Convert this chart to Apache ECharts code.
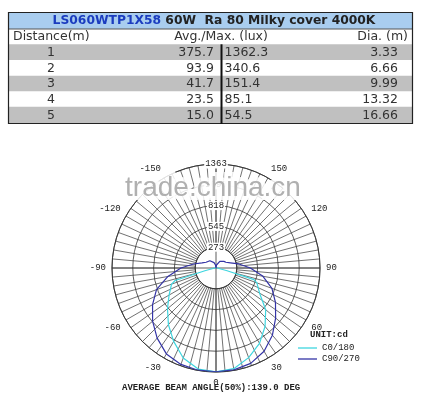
<!DOCTYPE html>
<html><head><meta charset="utf-8">
<script src="https://cdn.jsdelivr.net/npm/echarts@6/dist/echarts.min.js"></script>
<style>html,body{margin:0;padding:0;background:#fff}#c{width:426px;height:395px}</style>
</head><body><div id="c"></div>
<script>
// ---- table data ----
const titleCode = 'LS060WTP1X58';
const titleRest = ' 60W  Ra 80 Milky cover 4000K';
const colHeaders = ['Distance(m)', 'Avg./Max. (lux)', 'Dia. (m)'];
const distances = ['1', '2', '3', '4', '5'];
const avgLux = ['375.7', '93.9', '41.7', '23.5', '15.0'];
const maxLux = ['1362.3', '340.6', '151.4', '85.1', '54.5'];
const diameters = ['3.33', '6.66', '9.99', '13.32', '16.66'];

// ---- polar curve data (cd) ----
const c0Angles = [-180,-170,-160,-150,-140,-130,-120,-110,-100,-90,-80,-76,-73,-70,-60,-50,-40,-30,-20,-10,0,10,20,30,40,50,60,70,73,76,80,90,100,110,120,130,140,150,160,170,180];
const c0Values = [5,10,10,10,10,10,10,10,10,15,40,150,560,620,710,830,970,1110,1255,1345,1362,1340,1250,1140,1000,850,660,570,520,150,40,15,10,10,10,10,10,10,10,10,5];
const c90Angles = [-180,-170,-160,-150,-140,-130,-120,-110,-100,-90,-80,-70,-60,-50,-40,-30,-20,-10,0,10,20,30,40,50,60,70,80,90,100,110,120,130,140,150,160,170,180];
const c90Values = [0,40,75,100,125,135,150,195,300,460,640,830,960,1085,1200,1300,1345,1360,1362,1355,1330,1260,1150,1020,900,780,625,450,305,200,150,135,125,100,75,40,0];
const seriesNames = ['C0/180', 'C90/270'];
const ringLabels = [273, 545, 818, 1090, 1363];
const angleMin = -180, angleMax = 180, angleStep = 30;
const unitText = 'UNIT:cd';
const beamText = 'AVERAGE BEAM ANGLE(50%):139.0 DEG';
const watermark = 'trade.china.cn';

// ---- layout ----
const CX = 216, CY = 268, R = 104;
const rMax = ringLabels[ringLabels.length - 1];
const rStep = rMax / ringLabels.length;
const R0 = R * rStep / rMax;
const mono = '"Liberation Mono", "DejaVu Sans Mono", monospace';
const sans = '"DejaVu Sans", Verdana, sans-serif';
const gridColor = '#333';

// table geometry
const tL = 8, tR = 413;
const rowEdges = [12, 29, 44.3, 60, 75.7, 91.2, 106.7, 124];
const graphics = [];
graphics.push({type:'rect', shape:{x:tL, y:rowEdges[0], width:tR-tL, height:rowEdges[1]-rowEdges[0]}, style:{fill:'#a9cdef'}});
for (let i = 0; i < distances.length; i++) {
  if (i % 2 === 0) {
    graphics.push({type:'rect', shape:{x:tL, y:rowEdges[i+2], width:tR-tL, height:rowEdges[i+3]-rowEdges[i+2]}, style:{fill:'#c0c0c0'}});
  }
}
graphics.push({type:'line', shape:{x1:tL, y1:rowEdges[1], x2:tR, y2:rowEdges[1]}, style:{stroke:'#555', lineWidth:1}});
graphics.push({type:'rect', shape:{x:tL+0.5, y:rowEdges[0]+0.5, width:tR-tL-1, height:rowEdges[7]-rowEdges[0]-1}, style:{fill:null, stroke:'#222', lineWidth:1.2}});
graphics.push({type:'line', shape:{x1:221.5, y1:rowEdges[2], x2:221.5, y2:rowEdges[7]}, style:{stroke:'#111', lineWidth:2}});
graphics.push({type:'text', x:214, y:(rowEdges[0]+rowEdges[1])/2+0.5, style:{
  text:'{a|' + titleCode + '}{b|' + titleRest + '}', align:'center', verticalAlign:'middle',
  rich:{a:{fill:'#1b3cbf', font:'bold 12.3px ' + sans}, b:{fill:'#222', font:'bold 12.3px ' + sans}}}});
const hy = (rowEdges[1]+rowEdges[2])/2 + 0.5;
const tf = '12.5px ' + sans;
graphics.push({type:'text', x:13, y:hy, style:{text:colHeaders[0], font:tf, fill:'#333', align:'left', verticalAlign:'middle'}});
graphics.push({type:'text', x:221, y:hy, style:{text:colHeaders[1], font:tf, fill:'#333', align:'center', verticalAlign:'middle'}});
graphics.push({type:'text', x:408, y:hy, style:{text:colHeaders[2], font:tf, fill:'#333', align:'right', verticalAlign:'middle'}});
for (let i = 0; i < distances.length; i++) {
  const y = (rowEdges[i+2]+rowEdges[i+3])/2 + 0.5;
  graphics.push({type:'text', x:51, y:y, style:{text:distances[i], font:tf, fill:'#333', align:'center', verticalAlign:'middle'}});
  graphics.push({type:'text', x:214, y:y, style:{text:avgLux[i], font:tf, fill:'#333', align:'right', verticalAlign:'middle'}});
  graphics.push({type:'text', x:224.5, y:y, style:{text:maxLux[i], font:tf, fill:'#333', align:'left', verticalAlign:'middle'}});
  graphics.push({type:'text', x:398, y:y, style:{text:diameters[i], font:tf, fill:'#333', align:'right', verticalAlign:'middle'}});
}
// legend header + bottom text
graphics.push({type:'text', x:310, y:335, style:{text:unitText, font:'bold 9px ' + mono, fill:'#222', align:'left', verticalAlign:'middle'}});
graphics.push({type:'text', x:122, y:387.5, style:{text:beamText, font:'bold 9px ' + mono, fill:'#222', align:'left', verticalAlign:'middle'}});
// watermark
graphics.push({type:'text', x:213, y:188, z:100, style:{text:watermark, font:'28px "Liberation Sans", Arial, sans-serif', fill:'#fff', stroke:'#fff', lineWidth:8, align:'center', verticalAlign:'middle', opacity:0.85}});
graphics.push({type:'text', x:213, y:188, z:101, style:{text:watermark, font:'28px "Liberation Sans", Arial, sans-serif', fill:'#b0b0b0', align:'center', verticalAlign:'middle'}});

const option = {
  backgroundColor: '#fff',
  animation: false,
  polar: [
    {center:[CX, CY], radius:[0, R]},
    {center:[CX, CY], radius:[R0, R]}
  ],
  angleAxis: [
    {polarIndex:0, type:'value', min:angleMin, max:angleMax, interval:90, startAngle:90, clockwise:false,
     axisLine:{show:false}, axisTick:{show:false}, axisLabel:{show:false},
     splitLine:{show:true, lineStyle:{color:gridColor, width:0.8}}},
    {polarIndex:1, type:'value', min:angleMin, max:angleMax, interval:angleStep, startAngle:90, clockwise:false,
     axisLine:{show:true, lineStyle:{color:gridColor, width:0.9}}, axisTick:{show:false},
     minorTick:{show:false, splitNumber:6},
     minorSplitLine:{show:true, lineStyle:{color:gridColor, width:0.7}},
     splitLine:{show:true, lineStyle:{color:gridColor, width:0.7}},
     axisLabel:{show:true, margin:6, fontFamily:mono, fontSize:9, color:'#222',
       formatter: v => (Math.abs(v) === 180 ? '' : String(v))}}
  ],
  radiusAxis: [
    {polarIndex:0, type:'value', min:0, max:rMax, interval:rStep,
     axisLine:{show:false}, axisTick:{show:false},
     splitLine:{show:true, lineStyle:{color:gridColor, width:0.8}},
     axisLabel:{show:true, margin:0, align:'center', verticalAlign:'middle', fontFamily:mono, fontSize:9, color:'#222',
       backgroundColor:'#fff', padding:[0,1], showMinLabel:false,
       formatter: v => { const k = Math.round(v / rStep); return k >= 1 ? String(ringLabels[k-1]) : ''; }}},
    {polarIndex:1, type:'value', min:0, max:1, axisLine:{show:false}, axisTick:{show:false}, axisLabel:{show:false}, splitLine:{show:false}}
  ],
  legend: {orient:'vertical', left:298, top:343, padding:0, icon:'rect', itemWidth:19, itemHeight:1.3, itemGap:1,
    data: seriesNames, textStyle:{fontFamily:mono, fontSize:9, color:'#222', lineHeight:10}},
  series: [
    {name:seriesNames[0], type:'line', coordinateSystem:'polar', polarIndex:0, symbol:'none', showSymbol:false,
     data:c0Angles.map((a, i) => [c0Values[i], a]), lineStyle:{color:'#3fd6df', width:1.2}, itemStyle:{color:'#3fd6df'}, z:5},
    {name:seriesNames[1], type:'line', coordinateSystem:'polar', polarIndex:0, symbol:'none', showSymbol:false,
     data:c90Angles.map((a, i) => [c90Values[i], a]), lineStyle:{color:'#3434a6', width:1.2}, itemStyle:{color:'#3434a6'}, z:6}
  ],
  graphic: graphics
};
const chart = echarts.init(document.getElementById('c'), null, {renderer:'canvas'});
chart.setOption(option);
</script>
</body></html>
